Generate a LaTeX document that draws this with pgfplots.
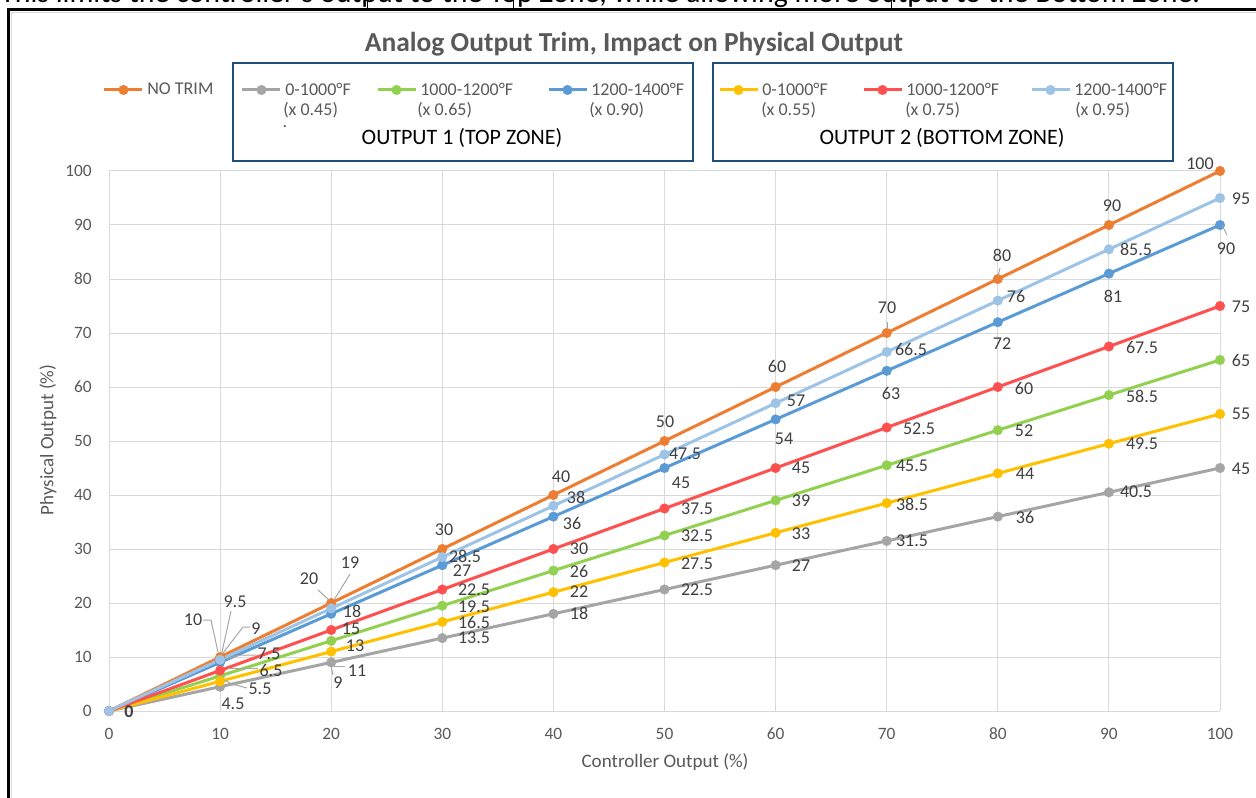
\documentclass[border=0pt]{standalone}
\usepackage{pgfplots}
\pgfplotsset{compat=1.18}
\usepackage{fontspec}
\setmainfont{Carlito}
\definecolor{cOr}{HTML}{ED7D31}
\definecolor{cGy}{HTML}{A5A5A5}
\definecolor{cGn}{HTML}{92D050}
\definecolor{cBl}{HTML}{5B9BD5}
\definecolor{cYe}{HTML}{FFC000}
\definecolor{cRd}{HTML}{FF5050}
\definecolor{cLb}{HTML}{9DC3E6}
\definecolor{cGrid}{HTML}{D9D9D9}
\definecolor{cTick}{HTML}{595959}
\definecolor{cLbl}{HTML}{404040}
\definecolor{cBox}{HTML}{1F4E79}
\definecolor{cLead}{HTML}{A6A6A6}
\newcommand{\lblfont}{\fontsize{13.5}{16}\selectfont}
\newcommand{\legfont}{\fontsize{13.5}{16}\selectfont}
\pgfplotsset{ser/.style={color=#1, line width=2.25pt, mark=*, mark size=3.6pt, mark options={solid, fill=#1, draw=#1, line width=0.3pt}}}
\newcommand{\DL}[3]{\node[anchor=center, inner sep=0pt, text=cLbl, font=\lblfont] at (#1,#2) {#3};}
\newcommand{\legitem}[4]{%
\begin{axis}[at={(0pt,-598.5pt)}, anchor=south west, scale only axis, width=942pt, height=598.5pt, hide axis, xmin=0, xmax=1, ymin=0, ymax=1,
  legend style={at={({#1/1256},{1-#2/798})}, anchor=west, draw=none, fill=none, inner sep=0pt, outer sep=0pt, font=\legfont, nodes={inner sep=0pt, text=cTick}},
  legend image code/.code={\draw[mark repeat=2, mark phase=2, ##1] plot coordinates {(0pt,0pt) (14.25pt,0pt) (28.5pt,0pt)};}]
\addlegendimage{ser=#3}
\addlegendentry{\hspace{2.5pt}#4}
\end{axis}}
\begin{document}
\begin{tikzpicture}
\useasboundingbox (0,0) rectangle (942pt,-598.5pt);
\clip (0,0) rectangle (942pt,-598.5pt);
\begin{axis}[at={(81.75pt,-533.25pt)}, anchor=south west, scale only axis,
  width=833.25pt, height=405pt, xmin=0, xmax=100, ymin=0, ymax=100,
  xtick={0,10,...,100}, ytick={0,10,...,100},
  grid=major, major grid style={color=cGrid, line width=0.75pt},
  axis line style={draw=none}, major tick length=0pt,
  /pgf/number format/assume math mode=true,
  tick label style={font=\fontsize{13}{15}\selectfont, text=cTick},
  yticklabel style={anchor=east, inner sep=0pt, xshift=-12.75pt},
  xticklabel style={anchor=north, inner sep=0pt, yshift=-12.5pt},
  xlabel={Controller Output (\%)}, ylabel={Physical Output (\%)},
  label style={font=\fontsize{14.3}{17}\selectfont, text=cTick},
  xlabel style={at={(axis description cs:0.5005,-0.0944)}, anchor=center},
  ylabel style={at={(axis description cs:-0.0549,0.502)}, anchor=center, rotate=0},
  clip=false]
\addplot[ser=cOr] coordinates {(0,0) (10,10) (20,20) (30,30) (40,40) (50,50) (60,60) (70,70) (80,80) (90,90) (100,100)};
\addplot[ser=cGy] coordinates {(0,0) (10,4.5) (20,9) (30,13.5) (40,18) (50,22.5) (60,27) (70,31.5) (80,36) (90,40.5) (100,45)};
\addplot[ser=cGn] coordinates {(0,0) (10,6.5) (20,13) (30,19.5) (40,26) (50,32.5) (60,39) (70,45.5) (80,52) (90,58.5) (100,65)};
\addplot[ser=cBl] coordinates {(0,0) (10,9) (20,18) (30,27) (40,36) (50,45) (60,54) (70,63) (80,72) (90,81) (100,90)};
\addplot[ser=cYe] coordinates {(0,0) (10,5.5) (20,11) (30,16.5) (40,22) (50,27.5) (60,33) (70,38.5) (80,44) (90,49.5) (100,55)};
\addplot[ser=cRd] coordinates {(0,0) (10,7.5) (20,15) (30,22.5) (40,30) (50,37.5) (60,45) (70,52.5) (80,60) (90,67.5) (100,75)};
\addplot[ser=cLb] coordinates {(0,0) (10,9.5) (20,19) (30,28.5) (40,38) (50,47.5) (60,57) (70,66.5) (80,76) (90,85.5) (100,95)};
\end{axis}
\legitem{103}{90}{cOr}{NO TRIM}
\legitem{241}{90}{cGy}{0-1000°F}
\legitem{376}{90}{cGn}{1000-1200°F}
\legitem{547}{90}{cBl}{1200-1400°F}
\legitem{718}{90}{cYe}{0-1000°F}
\legitem{862}{90}{cRd}{1000-1200°F}
\legitem{1030}{90}{cLb}{1200-1400°F}
\begin{scope}[x=0.75pt, y=-0.75pt]
% top text and frame
\node[anchor=base west, inner sep=0pt] at (0,3) {\resizebox{900pt}{!}{This limits the controller's output to the Top Zone, while allowing more output to the Bottom Zone.}};
\draw[cGrid, line width=0.75pt] (11.5,2000) -- (11.5,12.5) -- (3000,12.5);
\draw[black, line width=2.25pt] (8.5,2000) -- (8.5,10) -- (3000,10);
\foreach \xx in {367,513,891} \draw[black, line width=0.75pt] (\xx,-5) -- (\xx,10);
% title
\node[font=\fontsize{20.6}{24}\selectfont\bfseries, text=cTick, inner sep=0pt] at (634,44) {Analog Output Trim, Impact on Physical Output};
% legend boxes
\draw[cBox, line width=1.5pt] (233,63) rectangle (693,161);
\draw[cBox, line width=1.5pt] (713,63) rectangle (1173,161);
\foreach \xx/\tt in {283/0.45, 417/0.65, 589/0.90, 761/0.55, 905/0.75, 1075/0.95}
  \node[anchor=west, inner sep=0pt, font=\legfont, text=cTick] at (\xx,110) {(x \tt)};
\node[inner sep=0pt, font=\legfont, text=cTick] at (285,127) {.};
\node[inner sep=0pt, font=\fontsize{16.5}{19}\selectfont] at (462,138) {OUTPUT 1 (TOP ZONE)};
\node[inner sep=0pt, font=\fontsize{16.5}{19}\selectfont] at (942,138) {OUTPUT 2 (BOTTOM ZONE)};
% leader lines
\begin{scope}[cLead, line width=0.75pt]
\draw (203,620) -- (211,620) -- (218,652);
\draw (231,611) -- (222,652);
\draw (250,627) -- (243,627) -- (223,653);
\draw (257,655) -- (240,655) -- (226,659);
\draw (258,668) -- (228,668);
\draw (247,688) -- (232,684) -- (224,680);
\draw (318,590) -- (329,600);
\draw (350,574) -- (334,600);
\draw (334,661) -- (334,666) -- (345,666);
\draw (331,666) -- (333,675);
\draw (887,322) -- (887,330);
\draw (1000,268) -- (998,277);
\draw (1222,225) -- (1227,235);
\end{scope}
% data labels
\node[anchor=center, inner sep=0pt, text=cLbl, font=\lblfont\bfseries] at (129,712) {0};
\DL{193}{620}{10} \DL{309}{579}{20} \DL{444}{530}{30} \DL{561}{477}{40} \DL{665}{422}{50}
\DL{777}{366}{60} \DL{887}{308}{70} \DL{1002}{255}{80} \DL{1112}{206}{90} \DL{1200}{164}{100}
\DL{235}{602}{9.5} \DL{350}{563}{19} \DL{465}{556}{28.5} \DL{576}{497}{38} \DL{685}{454}{47.5}
\DL{796}{401}{57} \DL{911}{349}{66.5} \DL{1016}{296}{76} \DL{1136}{249}{85.5} \DL{1241}{199}{95}
\DL{256}{629}{9} \DL{352}{611}{18} \DL{462}{571}{27} \DL{572}{523}{36} \DL{681}{483}{45}
\DL{784}{439}{54} \DL{891}{393}{63} \DL{1002}{344}{72} \DL{1113}{296}{81} \DL{1226}{249}{90}
\DL{269}{654}{7.5} \DL{351}{629}{15} \DL{474}{590}{22.5} \DL{579}{549}{30} \DL{697}{509}{37.5}
\DL{801}{468}{45} \DL{919}{429}{52.5} \DL{1024}{388}{60} \DL{1142}{347}{67.5} \DL{1241}{307}{75}
\DL{271}{670}{6.5} \DL{355}{646}{13} \DL{474}{607}{19.5} \DL{579}{571}{26} \DL{697}{536}{32.5}
\DL{801}{501}{39} \DL{912}{466}{45.5} \DL{1024}{431}{52} \DL{1142}{396}{58.5} \DL{1241}{360}{65}
\DL{260}{689}{5.5} \DL{357}{671}{11} \DL{474}{622}{16.5} \DL{579}{592}{22} \DL{697}{564}{27.5}
\DL{801}{534}{33} \DL{912}{504}{38.5} \DL{1025}{474}{44} \DL{1142}{444}{49.5} \DL{1241}{414}{55}
\DL{233}{704}{4.5} \DL{338}{683}{9} \DL{474}{638}{13.5} \DL{579}{613}{18} \DL{697}{590}{22.5}
\DL{801}{566}{27} \DL{912}{541}{31.5} \DL{1025}{517}{36} \DL{1136}{492}{40.5} \DL{1241}{469}{45}
\end{scope}
\end{tikzpicture}
\end{document}
